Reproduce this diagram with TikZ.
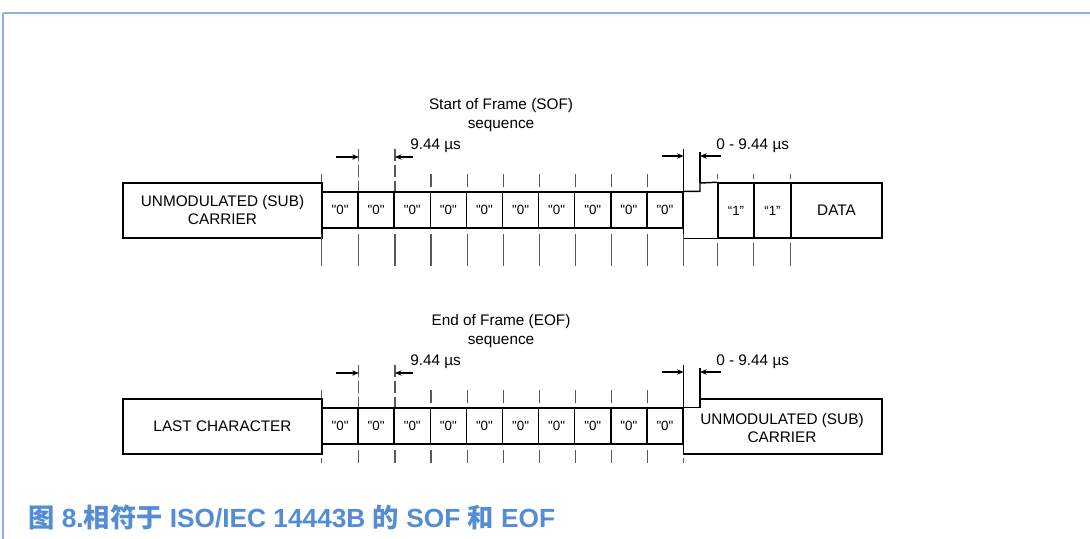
\documentclass[tikz,border=0pt]{standalone}
\usepackage{fontspec}
\setmainfont{Liberation Sans}
\newfontfamily\cellfont{Liberation Sans}
\newfontfamily\cjk{Noto Sans CJK SC}
\usetikzlibrary{arrows.meta}
\definecolor{framecol}{HTML}{8DB3E2}
\definecolor{capcol}{HTML}{548DD4}

\tikzset{
  box/.style={draw, line width=1.1pt, inner sep=0pt, align=center, font=\fontsize{11.5}{13.5}\selectfont},
  cell/.style={draw, line width=1.1pt, inner sep=0pt, minimum width=27.07pt, minimum height=27pt, font=\cellfont\fontsize{10}{12}\selectfont},
  tick/.style={draw=black!65, line width=0.9pt},
  dashtick/.style={tick, dash pattern=on 9pt off 3pt},
  markline/.style={draw, line width=0.8pt},
  dim/.style={line width=0.8pt, -{Stealth[length=5pt,width=4pt]}},
  lbl/.style={inner sep=0.75pt, font=\fontsize{11.5}{14}\selectfont, align=center}
}

\begin{document}
\begin{tikzpicture}[x=0.75pt,y=-0.75pt]
\useasboundingbox (0,0) rectangle (1090,539);

%Frame
\draw[framecol, line width=1.6pt] (3,13) -- (1090,13);
\draw[framecol, line width=1pt] (3,13) -- (3,539);

%%%%%%%% SOF %%%%%%%%
% Text Node
\node[lbl] (softitle) at (501,115) {Start of Frame (SOF)\\sequence};

%Shape: Rectangle
\node[box, minimum width=149.25pt, minimum height=41.25pt] (carrierA) at (222.5,210.5) {UNMODULATED (SUB)\\CARRIER};
%Cells
\foreach \i in {1,...,10}
  \node[cell] (s\i) at ({322+36.1*(\i-0.5)},210) {"0"};
\node[box, minimum width=27pt, minimum height=41.25pt, font=\cellfont\fontsize{10}{12}\selectfont] (one1) at (736,210.5) {“1”};
\node[box, minimum width=27.75pt, minimum height=41.25pt, font=\cellfont\fontsize{10}{12}\selectfont] (one2) at (772.5,210.5) {“1”};
\node[box, minimum width=68.25pt, minimum height=41.25pt] (data) at (836.5,210.5) {DATA};
%Step
\coordinate (stepA) at (700,183);
\draw[line width=1.1pt] (s10.north east) -- (s10.north east -| stepA) -- (stepA) -- (one1.north west);
\draw[line width=1.1pt] (s10.north east) -- (s10.east |- one1.south) -- (one1.south west);

%Ticks
\draw[tick] (s1.north west) ++(0,-17) -- ++(0,8);
\foreach \i in {3,...,9}
  \draw[tick] (s\i.north east) ++(0,-17) -- ++(0,13);
\foreach \n in {one1,one2,data}
  \draw[tick] (\n.north west) ++(0,-8) -- ++(0,5);
\draw[dashtick] (s1.north east) ++(0,-42) -- (s1.north east);
\draw[dashtick] (s2.north east) ++(0,-42) -- (s2.north east);
\foreach \i in {1,...,10}
  \draw[tick] (s\i.south east) ++(0,5) -- ++(0,32);
\draw[tick] (s1.south west) ++(0,5) -- ++(0,32);
\foreach \n in {one1,one2,data}
  \draw[tick] (\n.south west) ++(0,4) -- ++(0,23);

%Markers
\draw[markline] (s10.north east) ++(0,-42) -- (s10.north east);
\draw[markline] (stepA) ++(0,-31) -- (stepA);

% Connection
\coordinate (ta) at (336,157);
\coordinate (tb) at (413,157);
\coordinate (tc) at (662,156);
\coordinate (td) at (721,156);
\draw[dim] (ta) -- (ta -| s1.east);
\draw[dim] (tb) -- (tb -| s2.east);
\draw[dim] (tc) -- (tc -| s10.east);
\draw[dim] (td) -- (td -| stepA);

% Text Node
\node[lbl, anchor=west] (sofgap) at (409,146) {9.44 µs};
\node[lbl, anchor=west] (sofvar) at (715,146) {0 - 9.44 µs};

%%%%%%%% EOF %%%%%%%%
% Text Node
\node[lbl] (eoftitle) at (501,331) {End of Frame (EOF)\\sequence};

%Shape: Rectangle
\node[box, minimum width=149.25pt, minimum height=41.25pt] (lastchar) at (222.5,426.5) {LAST CHARACTER};
%Cells
\foreach \i in {1,...,10}
  \node[cell] (e\i) at ({322+36.1*(\i-0.5)},426) {"0"};
\coordinate (stepB) at (700,399);
\coordinate (endB) at (882,454);
\draw[line width=1.1pt] (e10.north east) -- (e10.north east -| stepB) -- (stepB) -- (stepB -| endB) -- (endB) -- (endB -| e10.east) -- cycle;
\node[lbl, font=\fontsize{11.5}{13.5}\selectfont] (carrierB) at (782,428) {UNMODULATED (SUB)\\CARRIER};

%Ticks
\draw[tick] (e1.north west) ++(0,-17) -- ++(0,8);
\foreach \i in {3,...,9}
  \draw[tick] (e\i.north east) ++(0,-17) -- ++(0,13);
\draw[dashtick] (e1.north east) ++(0,-42) -- (e1.north east);
\draw[dashtick] (e2.north east) ++(0,-42) -- (e2.north east);
\foreach \i in {1,...,9}
  \draw[tick] (e\i.south east) ++(0,5) -- ++(0,13);
\draw[tick] (e1.south west) ++(0,13) -- ++(0,5);
\draw[tick] (e10.south east) ++(0,13) -- ++(0,5);

%Markers
\draw[markline] (e10.north east) ++(0,-42) -- (e10.north east);
\draw[markline] (stepB) ++(0,-31) -- (stepB);

% Connection
\coordinate (ua) at (336,373);
\coordinate (ub) at (413,373);
\coordinate (uc) at (662,372);
\coordinate (ud) at (721,372);
\draw[dim] (ua) -- (ua -| e1.east);
\draw[dim] (ub) -- (ub -| e2.east);
\draw[dim] (uc) -- (uc -| e10.east);
\draw[dim] (ud) -- (ud -| stepB);

% Text Node
\node[lbl, anchor=west] (eofgap) at (409,362) {9.44 µs};
\node[lbl, anchor=west] (eofvar) at (715,362) {0 - 9.44 µs};

%Caption
\node[anchor=west, inner sep=0pt, text=capcol, font=\fontsize{19.7}{22}\selectfont\bfseries] (caption) at (28,517)
  {{\cjk 图} 8.{\cjk 相符于} ISO/IEC 14443B {\cjk 的} SOF {\cjk 和} EOF};

\end{tikzpicture}
\end{document}
